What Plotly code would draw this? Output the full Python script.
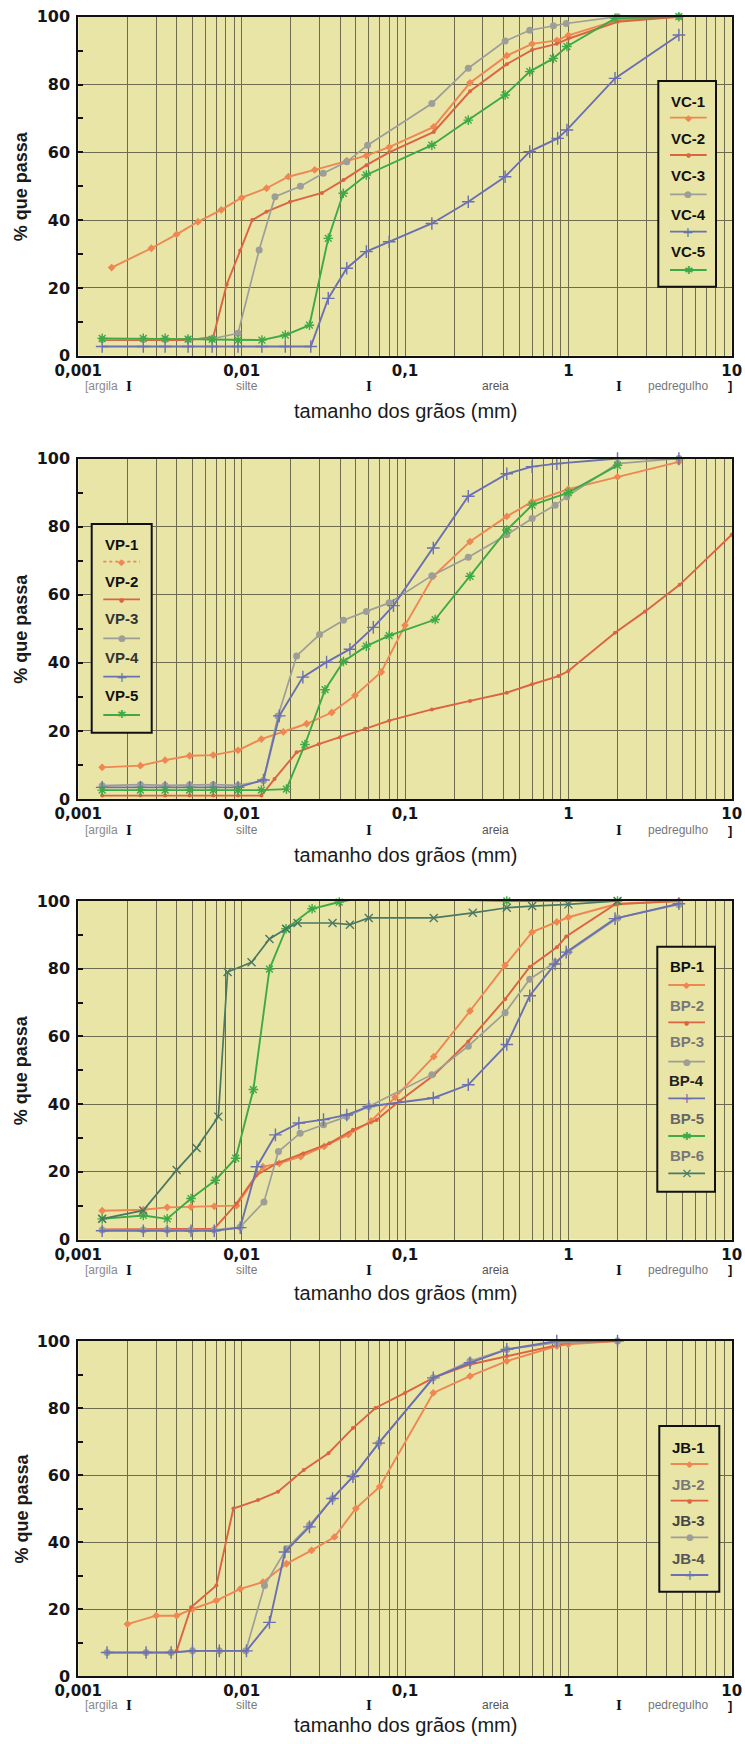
import numpy as np
import plotly.graph_objects as go

# ---------------- data (grain size in mm, % passing) ----------------
# Panel 1 : VC
VC1_d = [0.0016, 0.0028, 0.004, 0.0054, 0.0075, 0.01, 0.0142, 0.0193, 0.028, 0.044, 0.058, 0.08, 0.15, 0.25, 0.42, 0.6, 0.85, 1.0, 2.0, 4.75]
VC1_p = [26, 31.7, 35.8, 39.5, 43, 46.6, 49.4, 52.8, 54.8, 57.5, 59, 61.5, 67.5, 80.5, 88.5, 92, 93, 94.5, 99, 100]
VC2_d = [0.0014, 0.0025, 0.0034, 0.0047, 0.0067, 0.0081, 0.0098, 0.0116, 0.0142, 0.0198, 0.031, 0.042, 0.058, 0.08, 0.15, 0.25, 0.42, 0.6, 0.85, 1.0, 2.0, 4.75]
VC2_p = [4.6, 4.6, 4.6, 4.6, 5.5, 21, 31, 40, 42.5, 45.4, 48, 51.8, 56.2, 60, 66, 78, 86, 90.2, 92, 93.5, 98.5, 100]
VC3_d = [0.0014, 0.0025, 0.0034, 0.0047, 0.0066, 0.0095, 0.0128, 0.016, 0.0229, 0.0316, 0.044, 0.059, 0.146, 0.244, 0.41, 0.58, 0.81, 0.97, 2.0, 4.75]
VC3_p = [4.8, 4.8, 4.8, 4.8, 5, 6.6, 31.2, 46.9, 50, 53.8, 57.2, 62.1, 74.4, 84.8, 92.8, 96, 97.3, 98, 100, 100]
VC4_d = [0.0014, 0.0025, 0.0034, 0.0047, 0.0066, 0.0095, 0.0133, 0.0185, 0.0265, 0.0339, 0.044, 0.058, 0.08, 0.146, 0.244, 0.41, 0.58, 0.86, 0.98, 1.93, 4.75]
VC4_p = [2.7, 2.7, 2.7, 2.7, 2.7, 2.7, 2.7, 2.7, 2.7, 16.9, 25.8, 30.7, 33.6, 39, 45.4, 52.8, 60.2, 64.1, 66.6, 81.8, 94.6]
VC5_d = [0.0014, 0.0025, 0.0034, 0.0047, 0.0066, 0.0095, 0.0133, 0.0185, 0.026, 0.0339, 0.0419, 0.058, 0.146, 0.244, 0.41, 0.58, 0.81, 0.98, 1.93, 4.75]
VC5_p = [5.1, 5.1, 5.1, 4.9, 4.8, 4.6, 4.6, 6.1, 9, 34.6, 47.9, 53.3, 62.1, 69.5, 76.9, 83.8, 87.7, 91.2, 99.5, 100]

# Panel 2 : VP
VP1_d = [0.0014, 0.0024, 0.0034, 0.0048, 0.0067, 0.0095, 0.0132, 0.018, 0.025, 0.0356, 0.0494, 0.0716, 0.1, 0.149, 0.25, 0.42, 0.6, 1.0, 2.0, 4.75]
VP1_p = [9.3, 9.8, 11.4, 12.7, 12.9, 14.3, 17.6, 19.7, 22.1, 25.4, 30.4, 37.3, 51, 65.4, 75.6, 83, 87.3, 91, 94.6, 99]
VP2_d = [0.0014, 0.0024, 0.0034, 0.0048, 0.0067, 0.0095, 0.0132, 0.0159, 0.0217, 0.0296, 0.04, 0.057, 0.08, 0.146, 0.25, 0.42, 0.6, 0.87, 1.0, 1.93, 2.95, 4.8, 10]
VP2_p = [1, 1, 1, 1, 1, 1, 1, 5.9, 13.7, 16.1, 18.1, 20.6, 23, 26.3, 28.8, 31.2, 33.7, 36.1, 37.6, 48.8, 55.1, 62.9, 77.6]
VP3_d = [0.0014, 0.0024, 0.0034, 0.0048, 0.0067, 0.0095, 0.0136, 0.0167, 0.0217, 0.03, 0.042, 0.058, 0.08, 0.146, 0.244, 0.42, 0.6, 0.83, 0.98, 2.0, 4.75]
VP3_p = [3.9, 4.2, 4, 4.1, 4.2, 4, 5.4, 24.4, 42, 48.3, 52.5, 55.1, 57.6, 65.6, 71, 77.6, 82.4, 86.3, 88.8, 98.5, 100]
VP4_d = [0.0014, 0.0024, 0.0034, 0.0048, 0.0067, 0.0095, 0.0136, 0.017, 0.0237, 0.0331, 0.046, 0.064, 0.085, 0.149, 0.244, 0.42, 0.6, 0.85, 2.0, 4.75]
VP4_p = [3.4, 3.4, 3.4, 3.4, 3.4, 3.4, 5.6, 24.4, 35.8, 40.2, 44, 50.4, 56.8, 73.7, 88.9, 95.5, 97.6, 98.5, 100, 100]
VP5_d = [0.0014, 0.0024, 0.0034, 0.0048, 0.0067, 0.0095, 0.0132, 0.0188, 0.0244, 0.0324, 0.042, 0.058, 0.08, 0.153, 0.25, 0.42, 0.6, 1.0, 2.0]
VP5_p = [2.6, 2.6, 2.6, 2.6, 2.6, 2.6, 2.6, 2.9, 16, 32.1, 40.4, 44.9, 48, 52.7, 65.4, 79, 86.3, 90, 98]

# Panel 3 : BP
BP1_d = [0.0014, 0.0025, 0.0035, 0.0049, 0.0068, 0.0093, 0.0135, 0.017, 0.023, 0.032, 0.045, 0.062, 0.087, 0.15, 0.25, 0.41, 0.6, 0.85, 1.0, 2.0, 4.75]
BP1_p = [8.5, 8.8, 9.5, 9.6, 9.8, 10, 21.5, 22.5, 24.5, 27.5, 31, 35, 42, 54, 67.5, 81, 90.8, 93.8, 95.2, 99.2, 100]
BP2_d = [0.0014, 0.0025, 0.0035, 0.0049, 0.0068, 0.0093, 0.0123, 0.0164, 0.0238, 0.0344, 0.048, 0.067, 0.093, 0.15, 0.244, 0.41, 0.58, 0.85, 0.97, 1.93, 4.75]
BP2_p = [3, 3, 3, 3, 3.2, 10.6, 19, 22.5, 25.4, 28.4, 32.4, 35.3, 41, 48.5, 58.5, 71, 80.5, 86.3, 89.5, 99, 100]
BP3_d = [0.0014, 0.0025, 0.0035, 0.0049, 0.0068, 0.0098, 0.0137, 0.0168, 0.0228, 0.0317, 0.044, 0.06, 0.146, 0.244, 0.41, 0.58, 0.83, 1.0, 2.0, 4.75]
BP3_p = [2.8, 2.8, 2.8, 2.8, 2.8, 3.7, 11.1, 26, 31.4, 33.9, 36.3, 39.3, 48.7, 57.1, 67, 76.9, 81.9, 85, 95, 99]
BP4_d = [0.0014, 0.0025, 0.0035, 0.0049, 0.0068, 0.0098, 0.0124, 0.0161, 0.0224, 0.0317, 0.044, 0.06, 0.149, 0.244, 0.42, 0.58, 0.83, 0.97, 1.93, 4.75]
BP4_p = [2.6, 2.6, 2.6, 2.6, 2.6, 3.5, 21.5, 30.9, 34.4, 35.4, 36.8, 39.3, 41.8, 45.7, 57.6, 72, 81.4, 84.9, 94.8, 99.2]
BP5_d = [0.0014, 0.0025, 0.0035, 0.0049, 0.0069, 0.0092, 0.0118, 0.0148, 0.0187, 0.027, 0.0396, 0.055, 0.15, 0.42, 2.0]
BP5_p = [6.1, 7.1, 6.1, 12.1, 17.5, 24, 44.3, 79.9, 91.8, 97.7, 99.7, 101, 100.5, 100, 100]
BP6_d = [0.0014, 0.0025, 0.004, 0.0053, 0.0072, 0.0082, 0.0115, 0.0148, 0.0187, 0.022, 0.036, 0.046, 0.06, 0.15, 0.26, 0.42, 0.6, 1.0, 2.0]
BP6_p = [6.1, 8.6, 20.5, 27, 36.3, 79, 81.9, 88.8, 91.8, 93.5, 93.5, 93, 95, 95, 96.5, 98, 98.5, 99, 100]

# Panel 4 : JB
JB1_d = [0.002, 0.003, 0.004, 0.005, 0.007, 0.0098, 0.0135, 0.0188, 0.0268, 0.037, 0.05, 0.07, 0.149, 0.25, 0.42, 0.85, 1.0, 2.0]
JB1_p = [15.5, 18, 18, 20, 22.5, 26, 28, 33.5, 37.5, 41.5, 50, 56.5, 84.5, 89.5, 94, 98.5, 99, 100]
JB2_d = [0.004, 0.0049, 0.007, 0.0089, 0.0126, 0.0167, 0.024, 0.034, 0.048, 0.066, 0.1, 0.149, 0.25, 0.42, 1.0, 2.0]
JB2_p = [7.5, 20.5, 27, 50, 52.5, 55, 61.5, 66.5, 74, 80, 84.5, 89, 93, 95.5, 99.5, 100]
JB3_d = [0.0015, 0.0026, 0.0037, 0.005, 0.0073, 0.0106, 0.0138, 0.0188, 0.026, 0.036, 0.048, 0.069, 0.149, 0.25, 0.42, 0.85, 2.0]
JB3_p = [7, 7, 7, 7.5, 7.5, 7.5, 27, 38, 45, 53, 59.5, 69.5, 89, 94, 97.5, 99.5, 100]
JB4_d = [0.0015, 0.0026, 0.0037, 0.005, 0.0073, 0.0107, 0.0148, 0.0184, 0.026, 0.036, 0.048, 0.069, 0.149, 0.25, 0.42, 0.85, 2.0]
JB4_p = [7, 7, 7, 7.5, 7.5, 7.5, 16, 37, 44.5, 53, 59.5, 69.5, 89, 93.5, 97.5, 100, 100]

X_TICKS = [0.001, 0.01, 0.1, 1, 10]
X_TICKTEXT = ["0,001", "0,01", "0,1", "1", "10"]
Y_TICKS = [0, 20, 40, 60, 80, 100]

# ---------------- styles ----------------
W, H = 745, 1744
X0, X1 = 78.3, 731.7
BG = "#E9E5A7"
GRID = "#6F6B4E"

STY = {
    1: dict(color="#EE8752", symbol="diamond", size=6, width=1.9, glyph="◆", gsize=9),
    2: dict(color="#DC6440", symbol="circle", size=4, width=1.9, glyph="●", gsize=6),
    3: dict(color="#9E9E98", symbol="circle", size=7, width=1.7, glyph="●", gsize=9),
    4: dict(color="#6A70B0", symbol="cross-thin-open", size=9, width=1.9, glyph="+", gsize=14),
    5: dict(color="#3DAA45", symbol="asterisk-open", size=8, width=1.9, glyph="✱", gsize=11),
    6: dict(color="#4A7862", symbol="x-thin-open", size=8, width=1.7, glyph="×", gsize=14),
}

panels = [
    dict(top=16.7, bottom=355.7, title_dy=55, class_dy=30,
         series=[("VC-1", VC1_d, VC1_p, 1), ("VC-2", VC2_d, VC2_p, 2), ("VC-3", VC3_d, VC3_p, 3),
                 ("VC-4", VC4_d, VC4_p, 4), ("VC-5", VC5_d, VC5_p, 5)],
         leg=dict(box=(658.3, 81, 716, 286.7), tx=688.3, lx=(670, 706.7),
                  items=[("VC-1", 1, 101.7, 117.7, "#111"), ("VC-2", 2, 138.3, 155, "#111"),
                         ("VC-3", 3, 175.7, 194.3, "#111"), ("VC-4", 4, 214.3, 231.7, "#111"),
                         ("VC-5", 5, 251.7, 270, "#111")])),
    dict(top=458.5, bottom=799, title_dy=56, class_dy=31,
         series=[("VP-1", VP1_d, VP1_p, 1), ("VP-2", VP2_d, VP2_p, 2), ("VP-3", VP3_d, VP3_p, 3),
                 ("VP-4", VP4_d, VP4_p, 4), ("VP-5", VP5_d, VP5_p, 5)],
         leg=dict(box=(91.7, 524, 151.7, 732.7), tx=121.7, lx=(103.3, 140),
                  items=[("VP-1", 1, 544, 561.7, "#111"), ("VP-2", 2, 581.7, 599.3, "#111"),
                         ("VP-3", 3, 618.3, 638.3, "#333"), ("VP-4", 4, 657.3, 676.7, "#333"),
                         ("VP-5", 5, 695, 715, "#111")])),
    dict(top=901, bottom=1239.5, title_dy=53, class_dy=30,
         series=[("BP-1", BP1_d, BP1_p, 1), ("BP-2", BP2_d, BP2_p, 2), ("BP-3", BP3_d, BP3_p, 3),
                 ("BP-4", BP4_d, BP4_p, 4), ("BP-5", BP5_d, BP5_p, 5), ("BP-6", BP6_d, BP6_p, 6)],
         leg=dict(box=(657.3, 946.7, 715, 1191.7), tx=686.7, lx=(668.3, 705),
                  items=[("BP-1", 1, 966.7, 985, "#111"), ("BP-2", 2, 1005, 1022.3, "#777"),
                         ("BP-3", 3, 1041.7, 1061.7, "#777"), ("BP-4", 4, 1080.7, 1098.3, "#222"),
                         ("BP-5", 5, 1118.3, 1136, "#666"), ("BP-6", 6, 1155.7, 1173.3, "#777")])),
    dict(top=1341, bottom=1676, title_dy=49, class_dy=29,
         series=[("JB-1", JB1_d, JB1_p, 1), ("JB-2", JB2_d, JB2_p, 2), ("JB-3", JB3_d, JB3_p, 3),
                 ("JB-4", JB4_d, JB4_p, 4)],
         leg=dict(box=(659.3, 1426, 719.3, 1591.7), tx=688.3, lx=(670.7, 708.3),
                  items=[("JB-1", 1, 1447.3, 1464, "#111"), ("JB-2", 2, 1484, 1500.7, "#777"),
                         ("JB-3", 3, 1520.7, 1537.3, "#444"), ("JB-4", 4, 1558.3, 1575, "#555")])),
]

minor_vals = [m * 10.0 ** e for e in range(-3, 1) for m in range(2, 10)]

fig = go.Figure()
shapes, annos = [], []

def px(x):
    return x / W

def py(y):
    return 1 - y / H

for i, P in enumerate(panels, start=1):
    xa = "x" if i == 1 else f"x{i}"
    ya = "y" if i == 1 else f"y{i}"
    for name, d, p, k in P["series"]:
        s = STY[k]
        open_sym = "open" in s["symbol"]
        marker = dict(symbol=s["symbol"], size=s["size"], color=s["color"],
                      line=dict(color=s["color"], width=1.4 if open_sym else 0))
        fig.add_trace(go.Scatter(x=d, y=p, mode="lines+markers", name=name,
                                 xaxis=xa, yaxis=ya, showlegend=False, cliponaxis=False,
                                 line=dict(color=s["color"], width=s["width"]),
                                 marker=marker))
    xkey = "xaxis" if i == 1 else f"xaxis{i}"
    ykey = "yaxis" if i == 1 else f"yaxis{i}"
    fig.update_layout(**{
        xkey: dict(type="log", range=[-3, 1], domain=[px(X0), px(X1)], anchor=ya,
                   automargin=False,
                   tickvals=X_TICKS, ticktext=X_TICKTEXT, ticks="", ticklen=0,
                   ticklabelstandoff=0, ticklabeloverflow="allow",
                   tickfont=dict(family="DejaVu Sans", size=15, color="#151515", weight="bold"),
                   showgrid=True, gridcolor=GRID, gridwidth=1.3,
                   minor=dict(tickvals=minor_vals, showgrid=True, gridcolor=GRID, gridwidth=1.3, ticks=""),
                   showline=True, linecolor="#111", linewidth=2, mirror=True, zeroline=False),
        ykey: dict(range=[0, 100], domain=[py(P["bottom"]), py(P["top"])], anchor=xa,
                   automargin=False,
                   tickvals=Y_TICKS, ticks="inside", ticklen=5, tickwidth=2, tickcolor="#111",
                   ticklabelstandoff=3,
                   tickfont=dict(family="DejaVu Sans", size=16, color="#151515", weight="bold"),
                   showgrid=True, gridcolor=GRID, gridwidth=1.3,
                   minor=dict(dtick=10, ticks="inside", ticklen=5, tickwidth=2, tickcolor="#111", showgrid=False),
                   showline=True, linecolor="#111", linewidth=2, mirror=True, zeroline=False),
    })
    xref = xa
    # axis titles
    annos.append(dict(text="tamanho dos grãos (mm)", xref="paper", yref="paper",
                      x=px((X0 + X1) / 2), y=py(P["bottom"] + P["title_dy"]),
                      xanchor="center", yanchor="middle", showarrow=False,
                      font=dict(family="Liberation Sans", size=20, color="#1a1a1a")))
    annos.append(dict(text="% que passa", xref="paper", yref="paper", textangle=-90,
                      x=px(21), y=py((P["top"] + P["bottom"]) / 2),
                      xanchor="center", yanchor="middle", showarrow=False,
                      font=dict(family="Liberation Sans", size=18, color="#1a1a1a", weight="bold")))
    # soil class row
    cy = py(P["bottom"] + P["class_dy"])
    cls = [("[argila", 0.00138, "#8a8a8a", "Liberation Sans", False, 12),
           ("I", 0.00205, "#111", "Liberation Serif", True, 15),
           ("silte", 0.0108, "#7a7a7a", "Liberation Sans", False, 12),
           ("I", 0.06, "#111", "Liberation Serif", True, 15),
           ("areia", 0.36, "#555", "Liberation Sans", False, 12),
           ("I", 2.05, "#111", "Liberation Serif", True, 15),
           ("pedregulho", 4.7, "#777", "Liberation Sans", False, 12),
           ("]", 9.7, "#111", "Liberation Sans", True, 13)]
    for t, xv, col, fam, bold, fs in cls:
        annos.append(dict(text=t, xref=xref, yref="paper", x=np.log10(xv), y=cy,
                          xanchor="center", yanchor="middle", showarrow=False,
                          font=dict(family=fam, size=fs, color=col,
                                    weight="bold" if bold else "normal")))
    # manual legend box
    L = P["leg"]
    bx0, by0, bx1, by1 = L["box"]
    shapes.append(dict(type="rect", xref="paper", yref="paper", x0=px(bx0), x1=px(bx1),
                       y0=py(by1), y1=py(by0), fillcolor=BG, line=dict(color="#111", width=2),
                       layer="above"))
    for name, k, ty, ly, tcol in L["items"]:
        s = STY[k]
        annos.append(dict(text=name, xref="paper", yref="paper", x=px(L["tx"]), y=py(ty),
                          xanchor="center", yanchor="middle", showarrow=False,
                          font=dict(family="Liberation Sans", size=15, color=tcol, weight="bold")))
        shapes.append(dict(type="line", xref="paper", yref="paper", x0=px(L["lx"][0]), x1=px(L["lx"][1]),
                           y0=py(ly), y1=py(ly), layer="above",
                           line=dict(color=s["color"], width=1.8,
                                     dash="dot" if name == "VP-1" else "solid")))
        annos.append(dict(text=s["glyph"], xref="paper", yref="paper",
                          x=px((L["lx"][0] + L["lx"][1]) / 2), y=py(ly),
                          xanchor="center", yanchor="middle", showarrow=False,
                          font=dict(family="DejaVu Sans", size=s["gsize"], color=s["color"])))

fig.update_layout(width=W, height=H, margin=dict(l=0, r=0, t=0, b=0),
                  paper_bgcolor="white", plot_bgcolor=BG, showlegend=False,
                  shapes=shapes, annotations=annos)

# remove the browser's default page margin so the figure sits at the window's corner
fig.write_html("out.html", config={"displayModeBar": False},
               post_script="document.body.style.margin='0';document.body.style.padding='0';"
                           "document.documentElement.style.overflow='hidden';")
